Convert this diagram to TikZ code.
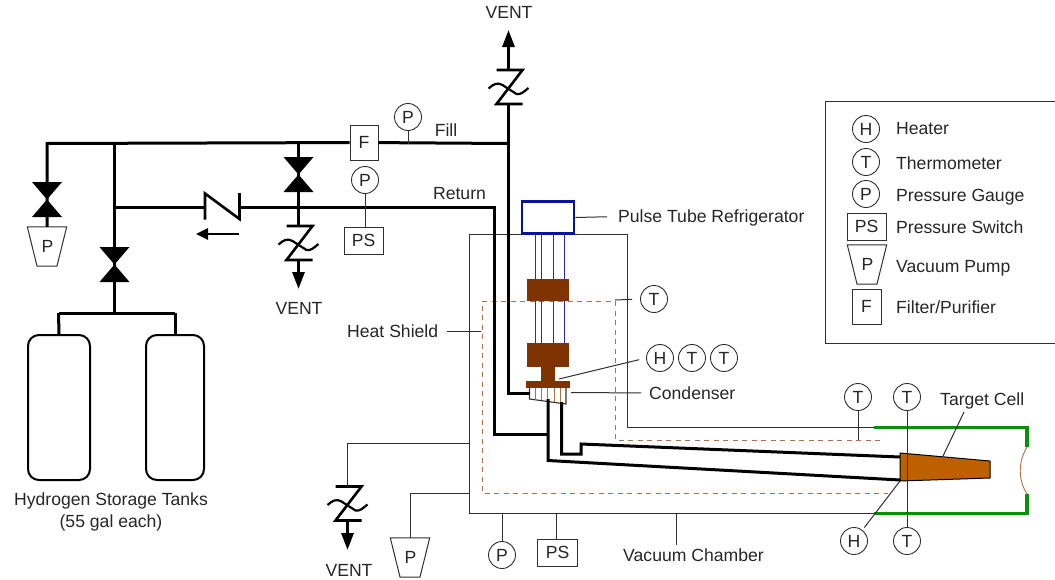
\documentclass[tikz,border=0pt]{standalone}
\usepackage{fontspec}
\setmainfont{Liberation Sans}
\usetikzlibrary{arrows.meta}
\definecolor{brownblock}{HTML}{7F3300}
\definecolor{cellorange}{HTML}{BF6000}
\definecolor{shieldbrown}{HTML}{B0704A}
\definecolor{ptblue}{HTML}{0A1496}
\definecolor{ptthin}{HTML}{2A2AB4}
\definecolor{chgreen}{HTML}{0A8F0A}
\definecolor{thing}{HTML}{303030}
\tikzset{
  x=1pt,y=-1pt,
  every node/.style={font=\fontsize{17.6}{22}\selectfont,inner sep=0pt,text=black!85},
  capt/.style={text height=12.6pt,text depth=0pt},
  pipe/.style={line width=3pt,black,line join=miter},
  thin line/.style={line width=1pt,thing},
  gauge/.style={circle,draw=thing,line width=0.9pt,minimum size=27pt,fill=white},
  boxn/.style={rectangle,draw=thing,line width=1pt,fill=white},
  pumpbox/.style={rectangle,minimum width=39pt,minimum height=39pt},
  shield/.style={line width=1pt,shieldbrown,dash pattern=on 5pt off 4.5pt},
  flowtip/.style={-{Triangle[length=17pt,width=12pt]}},
  flowtipb/.style={-{Triangle[length=12pt,width=11pt]}},
  label/.style={anchor=west,capt},
  blueline/.style={line width=1pt,ptthin},
  block/.style={fill=brownblock,draw=none},
}
\newcommand{\bowvalve}[3]{%
  \coordinate (#1) at (#2,#3);
  \fill[black] (#2-15,#3-17.5) -- (#2+15,#3-17.5) -- (#2,#3) -- cycle;
  \fill[black] (#2-15,#3+17.5) -- (#2+15,#3+17.5) -- (#2,#3) -- cycle;
}
\newcommand{\reliefv}[3]{%
  \coordinate (#1-t) at (#2,#3);
  \coordinate (#1-b) at (#2,#3+34);
  \draw[line width=2.6pt,black,line join=miter] (#2-12,#3) -- (#2+14,#3) -- (#2-12,#3+34) -- (#2+14,#3+34);
  \draw[line width=2.2pt,black] (#2-20,#3+18.5) .. controls (#2-15,#3+14) and (#2-11,#3+12) .. (#2-6,#3+15)
     -- (#2+8,#3+24) .. controls (#2+12,#3+25) and (#2+15,#3+22) .. (#2+20,#3+18);
}
\newcommand{\pumpn}[3]{%
  \node[pumpbox] (#1) at (#2,#3) {};
  \draw[thin line,fill=white] (#1.north west) -- (#1.north east) -- (#2+10,#3+19.5) -- (#2-10,#3+19.5) -- cycle;
  \node (#1-txt) at (#2+0.5,#3) {P};
}
\begin{document}
\begin{tikzpicture}
\useasboundingbox (0,0) rectangle (1055,579);

% ---- chamber (thin)
\coordinate (chTL) at (469,234);
\coordinate (chTR) at (627.5,234);
\coordinate (chIn) at (627.5,427.5);
\coordinate (gTL) at (874,427.5);
\coordinate (gTR) at (1027,427.5);
\coordinate (gW1) at (1027,447);
\coordinate (gW2) at (1027,494);
\coordinate (gBR) at (1027,513.5);
\coordinate (gBL) at (874,513.5);
\coordinate (chBL) at (469,513.5);
\draw[thin line] (gTL) -- (chIn) -- (chTR) -- (chTL) -- (chBL) -- (gBL);

% ---- heat shield
\coordinate (shA) at (880,440);
\coordinate (shB) at (615,440);
\coordinate (shC) at (615,301);
\coordinate (shD) at (482,301);
\coordinate (shE) at (482,493);
\coordinate (shF) at (888,493);
\draw[shield] (shA) -- (shB) -- (shC) -- (shD) -- (shE) -- (shF);

% ---- green end of chamber
\draw[line width=3.5pt,chgreen,line join=miter] (gTL) -- (gTR) -- (gW1);
\draw[line width=3.5pt,chgreen,line join=miter] (gW2) -- (gBR) -- (gBL);
\draw[line width=0.9pt,shieldbrown] (gW1) .. controls (1018,462) and (1018,480) .. (gW2);

% ---- pulse tube
\foreach \xx in {535.7,541.7,553.3,564} \draw[blueline] (\xx,234) -- (\xx,343);
\node[rectangle,draw=ptblue,line width=2.6pt,fill=white,minimum width=52pt,minimum height=31.5pt] (ptr) at (548,217.5) {};
\fill[block] (527,279) rectangle (569,301);
\fill[block] (527,343) rectangle (569,367);
\fill[block] (541,367) rectangle (555,381);
\fill[block] (526,381) rectangle (570,388);

% ---- condenser
\coordinate (condL) at (529.5,399);
\coordinate (condR) at (566,404);
\draw[thin line,line width=1.1pt,fill=white] (529.5,388) -- (condL) -- (condR) -- (566,388);
\foreach \xx/\yy in {535.7/400,541.7/400,547.7/401,554.3/402,560.7/402} \draw[line width=0.9pt,shieldbrown] (\xx,388) -- (\xx,\yy);

% ---- target cell
\draw[line width=1pt,black,fill=cellorange] (900,453) -- (990,461) -- (990,478) -- (900,481) -- cycle;
\coordinate (cellW) at (900,481);

% ---- piping
\coordinate (fillL) at (47,143.5);
\coordinate (fillM) at (114.5,143.5);
\coordinate (fillV) at (298.5,143.5);
\coordinate (fillR) at (508.5,143.5);
\coordinate (retL) at (114.5,207);
\coordinate (retC) at (298.5,207);
\coordinate (retR) at (494.5,207);
\coordinate (retD) at (494.5,434);
\coordinate (retJ) at (548,434);
\coordinate (tankT) at (114.5,313);
\coordinate (tankL) at (58.5,313);
\coordinate (tankR) at (175,313);
\coordinate (ventE) at (508.5,393);
\coordinate (ventF) at (529.5,393);
\coordinate (lowA) at (548,399);
\coordinate (lowB) at (548,460.5);
\coordinate (lowC) at (900,480);
\coordinate (upA) at (561.7,402);
\coordinate (upB) at (561.7,454);
\coordinate (upC) at (581,454);
\coordinate (upD) at (581,444);
\coordinate (upE) at (900,457);

\node[boxn,minimum width=28pt,minimum height=35pt] (filt) at (364,142.5) {F};

\pumpn{pump1}{47}{246.5}
\draw[pipe] (fillR) -- (filt);
\draw[pipe] (filt) -- (fillL) -- (pump1.north);
\draw[pipe] (fillM) -- (tankT);
\draw[pipe] (fillV) -- (retC);
\draw[pipe] (retL) -- (205,207);
\draw[pipe] (239.5,207) -- (retR) -- (retD) -- (retJ);
\draw[pipe] (lowA) -- (lowB) -- (lowC);
\draw[pipe] (upA) -- (upB) -- (upC) -- (upD) -- (upE);
\draw[pipe] (tankL) -- (tankR);

\bowvalve{vA}{47}{199.5}
\bowvalve{vB}{114.5}{264.5}
\bowvalve{vC}{298.5}{174.5}

% check valve
\coordinate (ckL) at (205,207);
\coordinate (ckR) at (239.5,207);
\draw[line width=2.6pt,black,line join=miter] (205,219.5) -- (205,193.5) -- (239.5,219) -- (239.5,193);
\coordinate (flowA) at (239,234);
\coordinate (flowB) at (196,234);
\draw[line width=2.6pt,flowtipb] (flowA) -- (flowB);

% reliefs and vents
\reliefv{rA}{298.5}{226}
\reliefv{rB}{508.5}{70}
\reliefv{rC}{347.5}{486.5}
\node[capt] (ventA) at (299,308) {VENT};
\node[capt] (ventB) at (509,12.5) {VENT};
\node[capt] (ventC) at (349,570) {VENT};
\coordinate (tipA) at (298.5,289);
\coordinate (tipB) at (508.5,30);
\coordinate (tipC) at (347.5,550);
\draw[pipe] (retC) -- (rA-t);
\draw[pipe,flowtip] (rA-b) -- (tipA);
\draw[pipe] (ventF) -- (ventE) -- (rB-b);
\draw[pipe,flowtip] (rB-t) -- (tipB);
\draw[pipe,flowtip] (rC-b) -- (tipC);

% tanks
\node[rectangle,rounded corners=11pt,draw=black,line width=2pt,minimum width=62pt,minimum height=145pt] (tankA) at (59,407.5) {};
\node[rectangle,rounded corners=11pt,draw=black,line width=2pt,minimum width=58pt,minimum height=145pt] (tankB) at (175,407.5) {};
\draw[pipe] (tankL) -- (tankA.north);
\draw[pipe] (tankR) -- (tankB.north);
\node[align=center] (tanklab) at (111,511.5) {Hydrogen Storage Tanks\\(55 gal each)};

% gauges on lines
\node[gauge] (gF) at (408,117) {P};
\coordinate (gFb) at (408,143.5);
\draw[thin line] (gF) -- (gFb);
\node[gauge] (gR) at (365,180) {P};
\node[boxn,minimum width=39pt,minimum height=27pt] (psR) at (363.5,240.5) {PS};
\draw[thin line] (gR.south) -- (gR.south |- psR.north);

\node[capt] (fillt) at (446,130) {Fill};
\node[capt] (rett) at (459.5,193) {Return};

% labels with leaders
\node[label] (ptrlab) at (618,216.5) {Pulse Tube Refrigerator};
\draw[thin line,shorten >=11pt] (ptr.east) -- (ptrlab.west);

\node[gauge] (tS) at (654,299) {T};
\coordinate (shT) at (615,300);
\draw[thin line,shorten >=8pt] (shT) -- (tS.west);
\node[gauge] (hC) at (660,358) {H};
\node[gauge] (tC1) at (692,358) {T};
\node[gauge] (tC2) at (724,358) {T};
\coordinate (neckC) at (559,379);
\draw[thin line,shorten >=7pt] (neckC) -- (hC.west);
\node[label] (condlab) at (649,393) {Condenser};
\coordinate (condP) at (571,392.5);
\draw[thin line,shorten >=8pt] (condP) -- (condlab.west);
\node[label] (hslab) at (347,331.5) {Heat Shield};
\coordinate (shL) at (481,331.5);
\draw[thin line,shorten <=9pt] (hslab.east) -- (shL);

% cell instruments
\node[gauge] (tE1) at (858,397) {T};
\coordinate (tE1b) at (858,440);
\draw[thin line] (tE1) -- (tE1b);
\node[gauge] (tE2) at (907,397) {T};
\node[gauge] (tE3) at (907,541) {T};
\draw[thin line] (tE2) -- (tE3);
\node[gauge] (hE) at (854,541) {H};
\draw[thin line,shorten >=3pt] (cellW) -- (hE);
\node[label] (tclab) at (940,399) {Target Cell};
\coordinate (cellT) at (943,456);
\coordinate (tcAnc) at (964,412);
\draw[thin line] (cellT) -- (tcAnc);

% chamber instruments
\coordinate (chV) at (469,443);
\coordinate (chVc) at (347.5,443);
\draw[thin line] (chV) -- (chVc) -- (rC-t);
\pumpn{pump2}{410}{557.5}
\coordinate (chP) at (469,493);
\coordinate (chPc) at (410,493);
\draw[thin line] (chP) -- (chPc) -- (pump2.north);
\node[gauge] (gB) at (502,555) {P};
\coordinate (gBt) at (502,514);
\draw[thin line] (gBt) -- (gB);
\node[boxn,minimum width=40pt,minimum height=27pt] (psB) at (557.5,552.5) {PS};
\coordinate (psBt) at (556.5,514);
\draw[thin line] (psBt) -- (psBt |- psB.north);
\node[capt] (vclab) at (693.5,555) {Vacuum Chamber};
\coordinate (vct) at (676,514);
\draw[thin line,shorten >=4pt] (vct) -- (vct |- vclab.north);

% legend
\coordinate (lgA) at (1056,101);
\coordinate (lgB) at (825.5,101);
\coordinate (lgC) at (825.5,343.5);
\coordinate (lgD) at (1056,343.5);
\draw[thin line] (lgA) -- (lgB) -- (lgC) -- (lgD);
\node[gauge] (lgH) at (866,129) {H};
\node[gauge] (lgT) at (866,162) {T};
\node[gauge] (lgP) at (866,194) {P};
\node[boxn,minimum width=39pt,minimum height=27pt] (lgPS) at (866.5,226.5) {PS};
\pumpn{lgPump}{867}{264.5}
\node[boxn,minimum width=29pt,minimum height=35pt] (lgF) at (866.5,306.5) {F};
\node[label] (l1) at (896,128) {Heater};
\node[label] (l2) at (896,163) {Thermometer};
\node[label] (l3) at (896,195) {Pressure Gauge};
\node[label] (l4) at (896,227) {Pressure Switch};
\node[label] (l5) at (896,266) {Vacuum Pump};
\node[label] (l6) at (896,307) {Filter/Purifier};
\end{tikzpicture}
\end{document}
